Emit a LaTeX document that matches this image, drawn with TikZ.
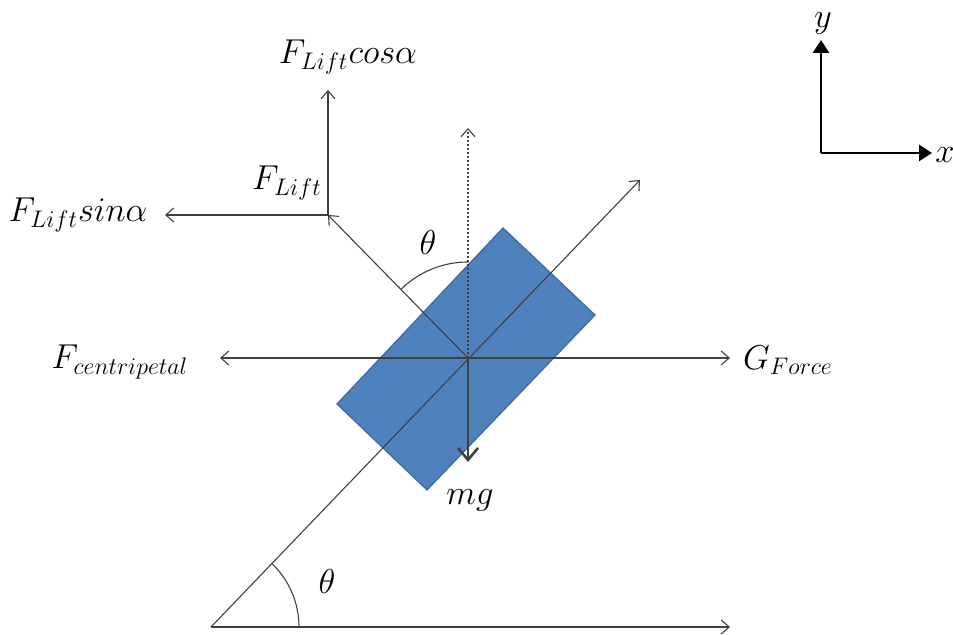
\documentclass[tikz,border=0pt]{standalone}
\usetikzlibrary{arrows.meta}
\definecolor{lin}{HTML}{404040}
\definecolor{boxfill}{HTML}{4F81BD}
\definecolor{boxdraw}{HTML}{3A6A9E}
\begin{document}
\begin{tikzpicture}[x=0.5pt,y=0.5pt,
  thin line/.style={draw=lin,line width=0.55pt},
  vec/.style={thin line,-{Straight Barb[length=4pt,width=7pt]}},
  lbl/.style={inner sep=0pt,font=\fontsize{16.5}{19}\selectfont},
  axis/.style={draw=black,line width=1.4pt,-{Triangle[length=6.5pt,width=8pt]}}]
\useasboundingbox (0,0) rectangle (953,635);
% coordinates
\coordinate (O) at (468,277);
\coordinate (A) at (211,8);
\coordinate (B) at (730,8);
\coordinate (T) at (640,455);
\coordinate (HL) at (220,277);
\coordinate (HR) at (730,277);
\coordinate (U) at (468,507);
\coordinate (P) at (328,420);
\coordinate (PV) at (328,545);
\coordinate (PH) at (165,420);
\coordinate (M) at (468,173);
\coordinate (AX) at (821,482);
\coordinate (AY) at (821,595);
\coordinate (AXX) at (932,482);
% block
\filldraw[fill=boxfill,draw=boxdraw,line width=0.6pt]
  (503,407) -- (595,320) -- (427,145) -- (337,231) -- cycle;
% lines
\draw[vec] (A) -- (B);
\draw[vec] (A) -- (T);
\draw[vec,{Straight Barb[length=4pt,width=7pt]}-{Straight Barb[length=4pt,width=7pt]}] (HL) -- (HR);
\draw[vec,dash pattern=on 1.2pt off 0.8pt] (O) -- (U);
\draw[vec] (O) -- (P);
\draw[vec] (P) -- (PV);
\draw[vec] (P) -- (PH);
\draw[draw=lin,line width=1.3pt,-{Straight Barb[length=6pt,width=10pt]}] (O) -- (M);
% arcs
\draw[thin line] ([shift={(88,0)}]A) arc[start angle=0,end angle=46,radius=88];
\draw[thin line] ([shift={(0,96)}]O) arc[start angle=90,end angle=134,radius=96];
% axes
\draw[axis] (AX) -- (AY);
\draw[axis] (AX) -- (AXX);
% labels
\node[lbl] (lcos) at (348,578) {$F_{Lift}cos\alpha$};
\node[lbl] (llift) at (287,452) {$F_{Lift}$};
\node[lbl] (lsin) at (78,420) {$F_{Lift}sin\alpha$};
\node[lbl] (lcent) at (120,273) {$F_{centripetal}$};
\node[lbl] (lg) at (788,275) {$G_{Force}$};
\node[lbl] (lmg) at (470,135) {$mg$};
\node[lbl] (lth1) at (428,392) {$\theta$};
\node[lbl] (lth2) at (327,53) {$\theta$};
\node[lbl] (ly) at (823,612) {$y$};
\node[lbl] (lx) at (945,480) {$x$};
\end{tikzpicture}
\end{document}
